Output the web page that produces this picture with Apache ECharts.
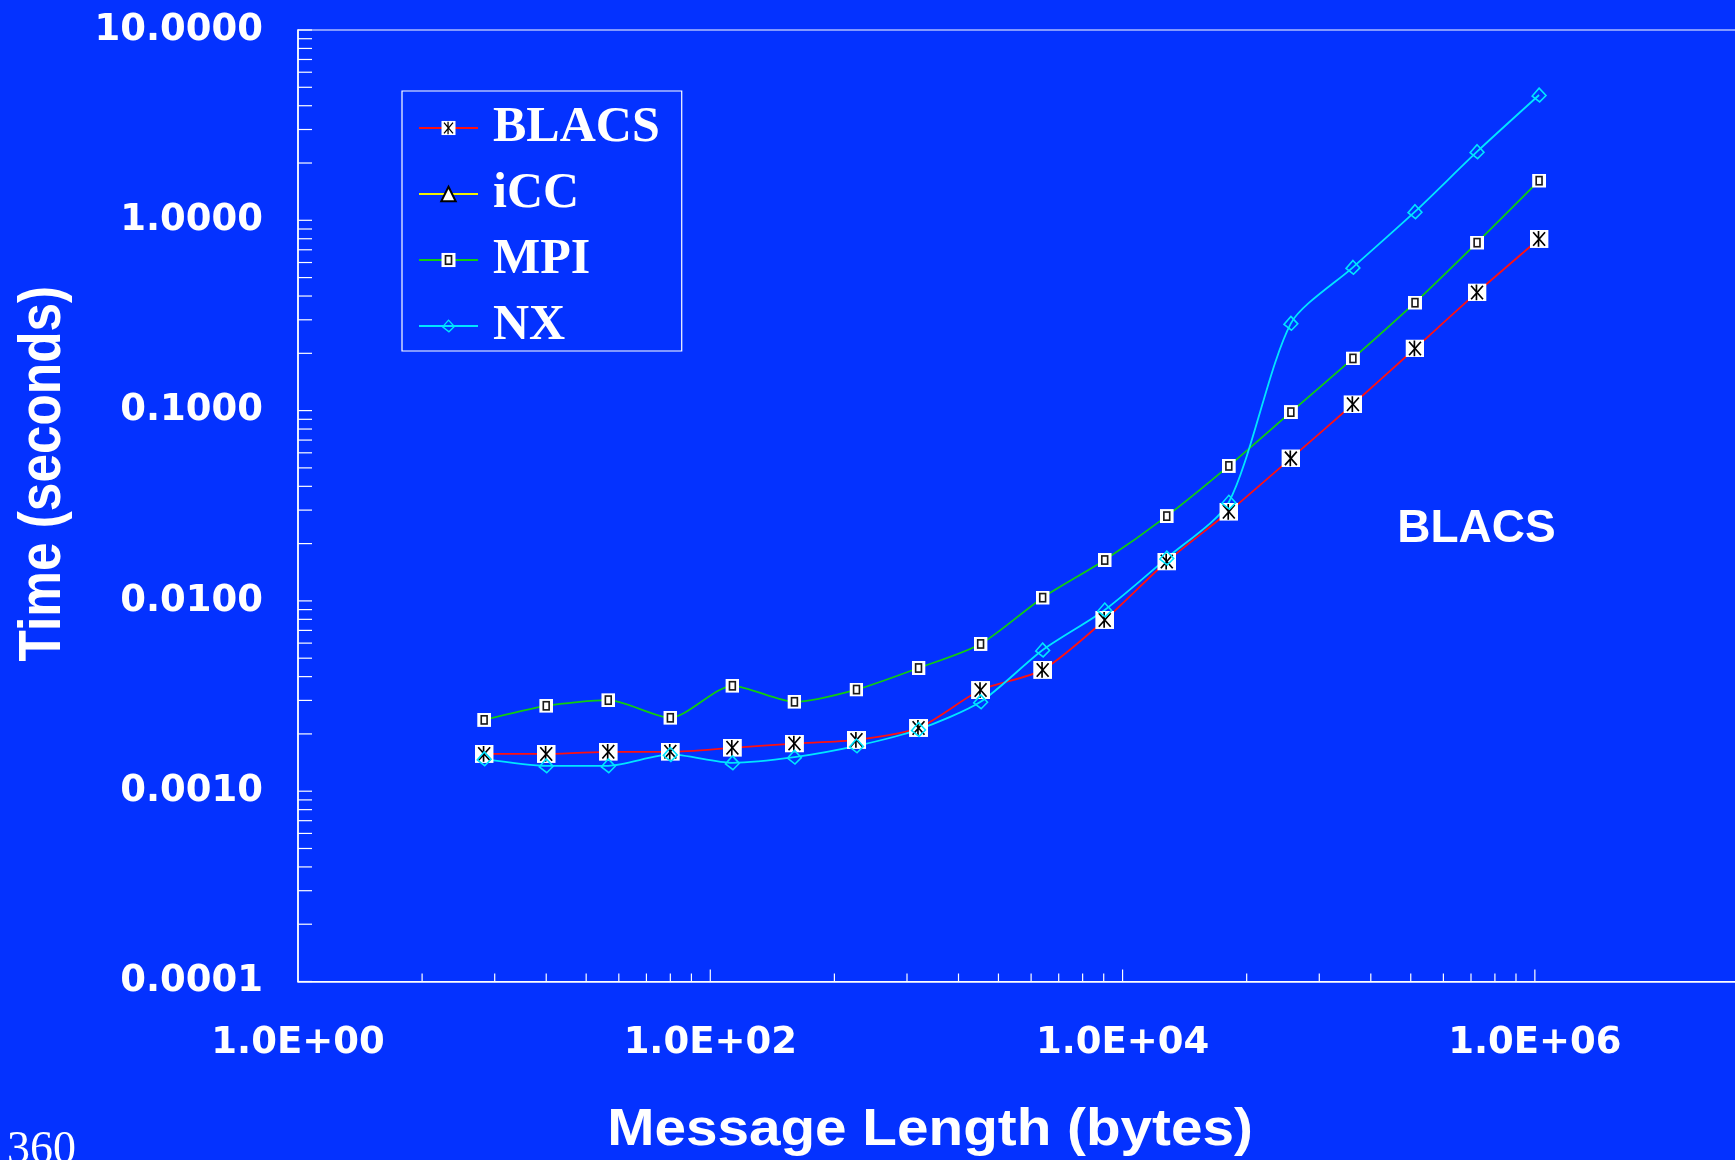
<!DOCTYPE html>
<html>
<head>
<meta charset="utf-8">
<title>BLACS timing</title>
<script src="https://cdn.jsdelivr.net/npm/echarts@6/dist/echarts.min.js"></script>
<style>
  html, body { margin: 0; padding: 0; background: #0432ff; }
  #chart { width: 1735px; height: 1160px; }
</style>
</head>
<body>
<div id="chart"></div>
<script>
// Message lengths in bytes (2^3 .. 2^20)
const messageSizes = [8, 16, 32, 64, 128, 256, 512, 1024, 2048, 4096, 8192, 16384,
  32768, 65536, 131072, 262144, 524288, 1048576];

// Time in seconds for each library
const blacsTimes = [0.00157, 0.00157, 0.00161, 0.00161, 0.00169, 0.00178, 0.00186, 0.00215,
  0.00340, 0.00434, 0.00794, 0.0161, 0.0294, 0.0561, 0.108, 0.212, 0.418, 0.798];
const iccTimes = [];
const mpiTimes = [0.00237, 0.00281, 0.00301, 0.00243, 0.00358, 0.00295, 0.00342, 0.00444,
  0.00594, 0.0104, 0.0164, 0.0279, 0.0512, 0.0982, 0.188, 0.369, 0.763, 1.615];
const nxTimes = [0.00148, 0.00136, 0.00136, 0.00156, 0.00141, 0.00151, 0.00173, 0.00211,
  0.00295, 0.00552, 0.00896, 0.0168, 0.0330, 0.2875, 0.566, 1.110, 2.294, 4.553];

// Axis labels
const xLabelExponents = [0, 2, 4, 6];
const xTickLabels = ['1.0E+00', '1.0E+02', '1.0E+04', '1.0E+06'];
const yLabelExponents = [-4, -3, -2, -1, 0, 1];
const yTickLabels = ['0.0001', '0.0010', '0.0100', '0.1000', '1.0000', '10.0000'];

const seriesNames = ['BLACS', 'iCC', 'MPI', 'NX'];
const seriesColors = ['#ff1010', '#f2f200', '#10cc10', '#00e5ff'];

// Tick marks: y axis has the usual 1..9 per decade; the x axis repeats the
// same pattern across each two-decade step (m^2 * 100^k).
const yTickValues = [];
for (let e = -4; e <= 0; e++) {
  for (let m = 1; m <= 9; m++) yTickValues.push(m * Math.pow(10, e));
}
yTickValues.push(10);
const xMinorTickValues = [];
for (let k = 0; k <= 2; k++) {
  for (let m = 2; m <= 9; m++) xMinorTickValues.push(m * m * Math.pow(100, k));
}
const xMajorTickValues = [100, 10000, 1000000];

const X_MIN = 1, X_MAX = 1e7, Y_MIN = 1e-4, Y_MAX = 10;

function svgSymbol(svg) {
  return 'image://data:image/svg+xml;charset=utf-8,' + encodeURIComponent(svg);
}
const blacsSymbol = svgSymbol(
  "<svg xmlns='http://www.w3.org/2000/svg' width='16' height='16' viewBox='0 0 16 16'>" +
  "<rect width='16' height='16' fill='#ffffff'/>" +
  "<path d='M3 2L13 14M13 2L3 14M7.5 1V15' stroke='#000' stroke-width='1.4' fill='none'/></svg>");
const mpiSymbol = svgSymbol(
  "<svg xmlns='http://www.w3.org/2000/svg' width='12' height='12' viewBox='0 0 12 12'>" +
  "<rect width='12' height='12' fill='#ffffff'/>" +
  "<rect x='3.5' y='2.5' width='5' height='7' fill='none' stroke='#1a1a1a' stroke-width='1.4'/></svg>");
const nxSymbol = svgSymbol(
  "<svg xmlns='http://www.w3.org/2000/svg' width='16' height='16' viewBox='0 0 16 16'>" +
  "<path d='M8 1.5L14.5 8.5L8.5 14.5L1.5 9Z' fill='none' stroke='#00e5ff' stroke-width='1.5'/></svg>");

function pairs(xs, ys) {
  return ys.map((y, i) => [xs[i], y]);
}

function labelFor(exps, labels) {
  return function (v) {
    const i = exps.indexOf(Math.round(Math.log10(v)));
    return i < 0 ? '' : labels[i];
  };
}

// Short white tick marks drawn through the axis scales
function tickSeries(data) {
  return {
    type: 'custom',
    silent: true,
    clip: false,
    z: 1,
    encode: { x: 0, y: 1 },
    data: data,
    renderItem: function (params, api) {
      const p = api.coord([api.value(0), api.value(1)]);
      const dx = api.value(2), dy = api.value(3);
      return {
        type: 'line',
        shape: { x1: p[0], y1: p[1], x2: p[0] + dx, y2: p[1] - dy },
        style: { stroke: '#ffffff', lineWidth: 1.2 }
      };
    }
  };
}

const tickData = []
  .concat(yTickValues.map(v => [X_MIN, v, 14, 0]))
  .concat(xMinorTickValues.map(v => [v, Y_MIN, 0, 8]))
  .concat(xMajorTickValues.map(v => [v, Y_MIN, 0, 12]));

const axisLabelFont = {
  color: '#ffffff',
  fontFamily: "'DejaVu Sans', sans-serif",
  fontWeight: 'bold',
  fontSize: 37
};

const chart = echarts.init(document.getElementById('chart'), null, { renderer: 'canvas' });

chart.setOption({
  backgroundColor: '#0432ff',
  animation: false,
  grid: {
    left: 298, top: 30, width: 1443, height: 951.5,
    outerBoundsMode: 'none',
    containLabel: false,
    show: true, borderColor: '#ffffff', borderWidth: 1.2,
    backgroundColor: 'transparent'
  },
  xAxis: {
    type: 'log', logBase: 10, min: X_MIN, max: X_MAX,
    axisLine: { lineStyle: { color: '#ffffff', width: 1.6 } },
    axisTick: { show: false },
    splitLine: { show: false },
    axisLabel: Object.assign({
      margin: 43,
      showMaxLabel: false,
      formatter: labelFor(xLabelExponents, xTickLabels)
    }, axisLabelFont)
  },
  yAxis: {
    type: 'log', logBase: 10, min: Y_MIN, max: Y_MAX,
    axisLine: { lineStyle: { color: '#ffffff', width: 1.6 } },
    axisTick: { show: false },
    splitLine: { show: false },
    axisLabel: Object.assign({
      margin: 35,
      padding: [3, 0, 0, 0],
      formatter: labelFor(yLabelExponents, yTickLabels)
    }, axisLabelFont)
  },
  legend: {
    data: seriesNames.map((name, i) => ({
      name: name,
      lineStyle: { color: seriesColors[i], width: 2 }
    })),
    orient: 'vertical',
    left: 402, top: 91,
    padding: [12, 22, 0, 16],
    borderColor: '#ffffff', borderWidth: 1.2,
    itemWidth: 59, itemHeight: 18, itemGap: 16,
    selectedMode: false,
    textStyle: {
      color: '#ffffff',
      fontFamily: "'Liberation Serif', 'Times New Roman', serif",
      fontWeight: 'bold',
      fontSize: 50,
      lineHeight: 50,
      padding: [0, 0, 0, 10]
    }
  },
  series: [
    tickSeries(tickData),
    {
      name: 'BLACS', type: 'line', z: 3,
      data: pairs(messageSizes, blacsTimes),
      color: seriesColors[0],
      smooth: 0.25,
      symbol: blacsSymbol, symbolSize: [19, 18], showAllSymbol: true,
      lineStyle: { color: seriesColors[0], width: 1.8 }
    },
    {
      name: 'iCC', type: 'line', z: 3,
      data: pairs(messageSizes, iccTimes),
      color: seriesColors[1],
      symbol: 'triangle', symbolSize: 14,
      itemStyle: { color: '#ffffff', borderColor: '#000000', borderWidth: 1.5 },
      lineStyle: { color: seriesColors[1], width: 1.8 }
    },
    {
      name: 'MPI', type: 'line', z: 3,
      data: pairs(messageSizes, mpiTimes),
      color: seriesColors[2],
      smooth: 0.25,
      symbol: mpiSymbol, symbolSize: 14, showAllSymbol: true,
      lineStyle: { color: seriesColors[2], width: 1.8 }
    },
    {
      name: 'NX', type: 'line', z: 3,
      data: pairs(messageSizes, nxTimes),
      color: seriesColors[3],
      smooth: 0.25,
      symbol: nxSymbol, symbolSize: 17, showAllSymbol: true,
      lineStyle: { color: seriesColors[3], width: 1.8 }
    }
  ],
  graphic: [
    {
      type: 'text', x: 43.5, y: 473.6, rotation: Math.PI / 2, scaleX: 0.87, z: 10,
      style: {
        text: 'Time (seconds)', fill: '#ffffff',
        font: "bold 59px 'Liberation Sans', Arial, sans-serif",
        align: 'center', verticalAlign: 'middle'
      }
    },
    {
      type: 'text', x: 930, y: 1131, scaleX: 1.09, z: 10,
      style: {
        text: 'Message Length (bytes)', fill: '#ffffff',
        font: "bold 52px 'Liberation Sans', Arial, sans-serif",
        align: 'center', verticalAlign: 'middle'
      }
    },
    {
      type: 'text', x: 1476.5, y: 529, z: 10,
      style: {
        text: 'BLACS', fill: '#ffffff',
        font: "bold 46px 'Liberation Sans', Arial, sans-serif",
        align: 'center', verticalAlign: 'middle'
      }
    },
    {
      type: 'text', x: 7, y: 1151, z: 10,
      style: {
        text: '360', fill: '#ffffff',
        font: "46px 'Liberation Serif', 'Times New Roman', serif",
        align: 'left', verticalAlign: 'middle'
      }
    }
  ]
});
</script>
</body>
</html>
